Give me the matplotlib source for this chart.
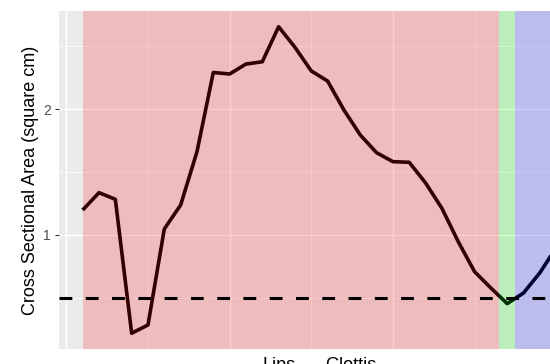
import numpy as np
import matplotlib
matplotlib.use("Agg")
import matplotlib.pyplot as plt
from matplotlib.ticker import FixedLocator

plt.rcParams['font.family'] = ['Liberation Sans', 'DejaVu Sans']

# area function sampled along the tract
position = np.arange(1, 31)
area = [1.198, 1.336, 1.283, 0.220, 0.286, 1.048, 1.238, 1.661, 2.290, 2.278,
        2.357, 2.375, 2.653, 2.490, 2.302, 2.222, 1.992, 1.794, 1.653, 1.582,
        1.577, 1.413, 1.212, 0.947, 0.709, 0.579, 0.455, 0.540, 0.700, 0.900]

# shaded regions (start, end, colour)
region_start = [1, 26.5, 27.5]
region_end = [26.5, 27.5, 40]
region_color = ['#FF0000', '#00FF00', '#0000FF']

threshold = 0.5
y_ticks = [1, 2]
bottom_labels = ['Lips', 'Glottis']

W, H = 550, 364
fig = plt.figure(figsize=(W / 100, H / 100), dpi=100)
ax = fig.add_axes([59 / W, (H - 349) / H, (W - 59) / W, (349 - 11) / H])
ax.set_facecolor('#EBEBEB')

ax.set_xlim(-0.45, 29.62)
ax.set_ylim(0.095, 2.778)

# grid
ax.xaxis.set_major_locator(FixedLocator([0, 10, 20, 30]))
ax.xaxis.set_minor_locator(FixedLocator([5, 15, 25]))
ax.yaxis.set_major_locator(FixedLocator(y_ticks))
ax.yaxis.set_minor_locator(FixedLocator([0.5, 1.5, 2.5]))
ax.grid(which='major', color='white', lw=1.0, zorder=0.5)
ax.grid(which='minor', color='white', lw=0.5, zorder=0.5)
ax.set_axisbelow(True)

ax.plot(position, area, color='black', lw=2.6, solid_joinstyle='round',
        solid_capstyle='butt', zorder=2)

for s, e, c in zip(region_start, region_end, region_color):
    ax.axvspan(s, e, color=c, alpha=0.2, lw=0, zorder=3)

ax.axhline(threshold, color='black', lw=2.2, ls=(0, (4.2, 4.4)), zorder=4)

for sp in ax.spines.values():
    sp.set_visible(False)

ax.tick_params(axis='x', which='both', length=0, labelbottom=False)
ax.tick_params(axis='y', which='major', length=3, width=0.8, color='#333333',
               labelsize=10, labelcolor='#4D4D4D', pad=3)
ax.tick_params(axis='y', which='minor', length=0)
ax.set_yticklabels([str(t) for t in y_ticks])

fig.text(31 / W, (H - 180.5) / H, 'Cross Sectional Area (square cm)',
         rotation=90, ha='center', va='center', fontsize=13, color='black')

fig.text(263 / W, (H - 370.5) / H, bottom_labels[0], ha='left',
         va='baseline', fontsize=13, color='black')
fig.text(325 / W, (H - 370.5) / H, bottom_labels[1], ha='left',
         va='baseline', fontsize=13, color='black')

fig.savefig('out.png', dpi=100)
